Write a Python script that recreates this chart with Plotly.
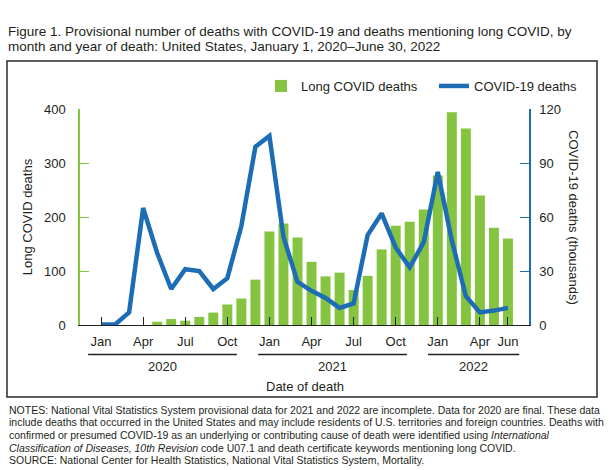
import plotly.graph_objects as go

months = ["Jan 2020","Feb 2020","Mar 2020","Apr 2020","May 2020","Jun 2020","Jul 2020","Aug 2020","Sep 2020","Oct 2020","Nov 2020","Dec 2020",
          "Jan 2021","Feb 2021","Mar 2021","Apr 2021","May 2021","Jun 2021","Jul 2021","Aug 2021","Sep 2021","Oct 2021","Nov 2021","Dec 2021",
          "Jan 2022","Feb 2022","Mar 2022","Apr 2022","May 2022","Jun 2022"]
long_covid_deaths = [0,0,0,0,6,11,8,15,23,38,49,84,173,188,162,117,90,97,65,91,140,184,191,214,277,394,364,240,180,160]
covid_deaths_k = [0.3,0.3,7,65,40,20,31,30,20,26,55,99,105,49,24,19,15,9.5,12,50,62,43,32,46,85,47,16,7,8,9.5]

tick_months = ["Jan 2020","Apr 2020","Jul 2020","Oct 2020","Jan 2021","Apr 2021","Jul 2021","Oct 2021","Jan 2022","Apr 2022","Jun 2022"]
tick_labels = ["Jan","Apr","Jul","Oct","Jan","Apr","Jul","Oct","Jan","Apr","Jun"]
years = ["2020","2021","2022"]
year_spans = [(-0.92, 9.68), (11.2, 21.8), (23.3, 29.8)]

title_lines = ["Figure 1. Provisional number of deaths with COVID-19 and deaths mentioning long COVID, by",
               "month and year of death: United States, January 1, 2020\u2013June 30, 2022"]
note_lines = ["NOTES: National Vital Statistics System provisional data for 2021 and 2022 are incomplete. Data for 2020 are final. These data",
              "include deaths that occurred in the United States and may include residents of U.S. territories and foreign countries. Deaths with",
              "confirmed or presumed COVID-19 as an underlying or contributing cause of death were identified using <i>International</i>",
              "<i>Classification of Diseases, 10th Revision</i> code U07.1 and death certificate keywords mentioning long COVID.",
              "SOURCE: National Center for Health Statistics, National Vital Statistics System, Mortality."]

GREEN = "#84C441"
BLUE = "#1C6DB5"
TXT = "#231F20"
FONT = "Liberation Sans, Arial, sans-serif"

fig = go.Figure()
fig.add_trace(go.Bar(x=months, y=long_covid_deaths, name="Long COVID deaths",
                     marker=dict(color=GREEN, line=dict(width=0)), yaxis="y"))
fig.add_trace(go.Scatter(x=months, y=covid_deaths_k, name="COVID-19 deaths", mode="lines",
                         line=dict(color=BLUE, width=4.5), yaxis="y2"))

W, H = 614, 470
L, R, T, B = 80, 529, 109, 325
pw, ph = R - L, B - T

def px_x(v):
    return (v - L) / pw

def px_y(v):
    return (B - v) / ph

shapes = []
annotations = []
for yr, (a, b) in zip(years, year_spans):
    shapes.append(dict(type="line", xref="x", yref="paper", x0=a, x1=b,
                       y0=px_y(354.5), y1=px_y(354.5), line=dict(color=TXT, width=1.3)))
    annotations.append(dict(text=yr, xref="x", yref="paper", x=(a + b) / 2, y=px_y(366),
                            showarrow=False, xanchor="center", yanchor="middle",
                            font=dict(size=13, color=TXT)))
annotations.append(dict(text="Date of death", xref="paper", yref="paper", x=px_x(304.5), y=px_y(386),
                        showarrow=False, xanchor="center", yanchor="middle", font=dict(size=13, color=TXT)))
annotations.append(dict(text="COVID-19 deaths (thousands)", xref="paper", yref="paper", x=px_x(574), y=px_y(217),
                        showarrow=False, xanchor="center", yanchor="middle", textangle=90,
                        font=dict(size=13, color=TXT)))
shapes.append(dict(type="rect", xref="paper", yref="paper", x0=px_x(7), x1=px_x(597),
                   y0=px_y(397), y1=px_y(61), line=dict(color="#2a2a2a", width=1.5), fillcolor="rgba(0,0,0,0)"))

for i, t in enumerate(title_lines):
    annotations.append(dict(text=t, xref="paper", yref="paper", x=px_x(6), y=px_y(31.5 + 15 * i),
                            showarrow=False, xanchor="left", yanchor="middle", align="left",
                            font=dict(size=13.5, color=TXT)))
for i, t in enumerate(note_lines):
    annotations.append(dict(text=t, xref="paper", yref="paper", x=px_x(7), y=px_y(409.5 + 12.7 * i),
                            showarrow=False, xanchor="left", yanchor="middle", align="left",
                            font=dict(size=10.5, color=TXT)))

fig.update_layout(
    width=W, height=H,
    margin=dict(l=L, r=W - R, t=T, b=H - B, pad=0, autoexpand=False),
    paper_bgcolor="white", plot_bgcolor="white",
    font=dict(family=FONT, size=13, color=TXT),
    bargap=0.29,
    showlegend=True,
    legend=dict(orientation="h", x=px_x(261), y=px_y(86), xanchor="left", yanchor="middle",
                bgcolor="rgba(0,0,0,0)", font=dict(size=13, color=TXT), traceorder="normal",
                entrywidth=128, entrywidthmode="pixels"),
    xaxis=dict(type="category", categoryorder="array", categoryarray=months,
               range=[-1.5, 30.5], tickmode="array", tickvals=tick_months, ticktext=tick_labels,
               ticks="inside", ticklen=8, tickwidth=1.3, tickcolor=TXT,
               showline=True, linecolor=TXT, linewidth=1.3, showgrid=False, zeroline=False,
               ticklabelstandoff=4, tickfont=dict(size=13, color=TXT)),
    yaxis=dict(range=[0, 400], tickvals=[0, 100, 200, 300, 400], ticks="inside", ticklen=9,
               tickwidth=1.3, tickcolor=GREEN, showline=True, linecolor=GREEN, linewidth=1.5,
               showgrid=False, zeroline=False, ticklabelstandoff=10,
               title=dict(text="Long COVID deaths", font=dict(size=13, color=TXT), standoff=8),
               tickfont=dict(size=13, color=TXT)),
    yaxis2=dict(range=[0, 120], tickvals=[0, 30, 60, 90, 120], overlaying="y", side="right",
                ticks="inside", ticklen=9, tickwidth=1.3, tickcolor=BLUE, showline=True,
                linecolor=BLUE, linewidth=1.5, showgrid=False, zeroline=False, ticklabelstandoff=6,
                tickfont=dict(size=13, color=TXT)),
    shapes=shapes, annotations=annotations,
)

fig.write_html("out.html")
